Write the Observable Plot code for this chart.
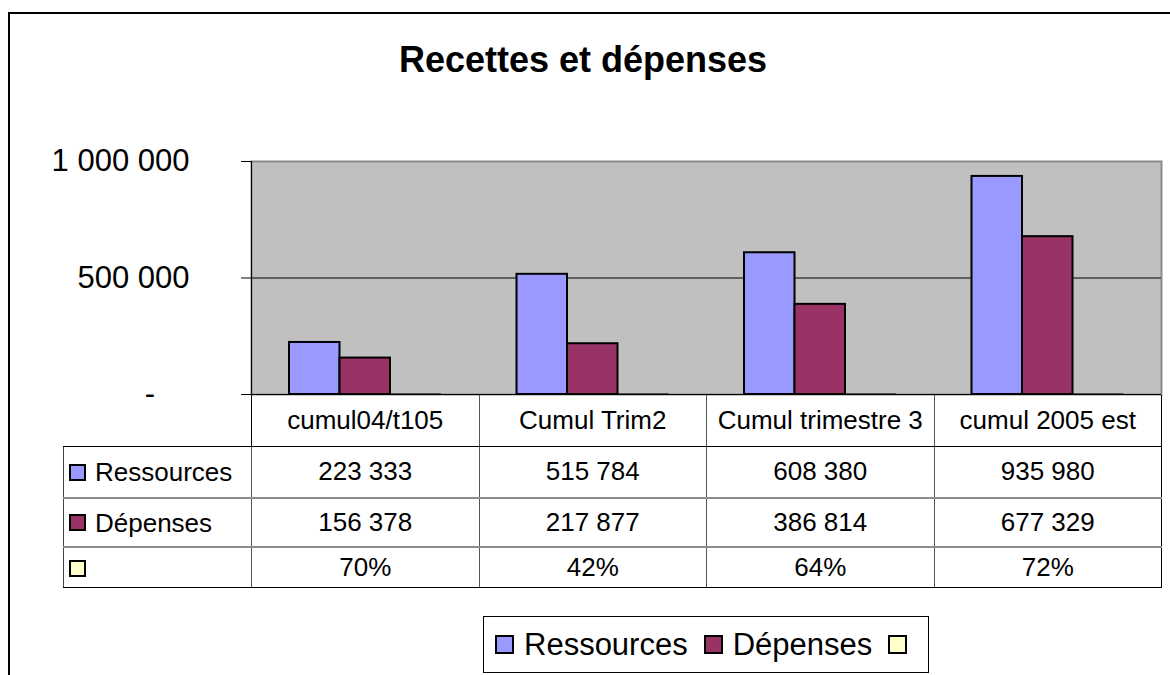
<!DOCTYPE html>
<html>
<head>
<meta charset="utf-8">
<script src="https://cdn.jsdelivr.net/npm/d3@7"></script>
<script src="https://cdn.jsdelivr.net/npm/@observablehq/plot@0.6"></script>
<style>
  html, body { margin: 0; padding: 0; background: #fff; }
  #wrap { position: relative; width: 1170px; height: 675px; overflow: hidden; font-family: "Liberation Sans", Arial, sans-serif; color: #000; }
  #border { position: absolute; left: 8px; top: 12px; width: 1300px; height: 800px; border: 2px solid #000; }
  #title { position: absolute; left: 0; width: 1166px; top: 42px; text-align: center; font-weight: bold; font-size: 36px; line-height: 36px; white-space: nowrap; }
  #chart { position: absolute; left: 0; top: 130px; }
  #table { position: absolute; border-collapse: collapse; table-layout: fixed; font-size: 26px; }
  #table td { padding: 0; text-align: center; white-space: nowrap; border: 1px solid #555; }
  .sw { display: inline-block; box-sizing: border-box; border: 2px solid #000; vertical-align: middle; }
  #legend { position: absolute; box-sizing: border-box; border: 1px solid #000; display: flex; align-items: center; font-size: 31px; white-space: nowrap; }
</style>
</head>
<body>
<div id="wrap">
  <div id="border"></div>
  <div id="title">Recettes et dépenses</div>
  <div id="chart"></div>
</div>
<script>
// ---- data ----
const categories = ["cumul04/t105", "Cumul Trim2", "Cumul trimestre 3", "cumul 2005 est"];
const seriesNames = ["Ressources", "Dépenses", ""];
const ressources = [223333, 515784, 608380, 935980];
const depenses = [156378, 217877, 386814, 677329];
const ratio = [0.70, 0.42, 0.64, 0.72];
const yTicks = [0, 500000, 1000000];
const seriesColors = ["#9999FF", "#993366", "#FFFFCC"];

// ---- layout ----
const W = 1170, H = 280;
const mL = 251, mR = 9, mT = 31, mB = 16;
const svgTop = 130;
const bandW = (W - mL - mR) / categories.length;
const barW = 50.5;
const outer = (bandW - 3 * barW) / 2;

const seriesValues = [ressources, depenses, ratio];
const rows = [];
seriesNames.forEach((s, k) => categories.forEach((c, i) => rows.push({series: k, cat: c, value: seriesValues[k][i]})));

const numFmt = v => d3.format(",")(v).replace(/,/g, " ");
const pctFmt = d3.format(".0%");
const tickFmt = v => v === 0 ? "-\u00a0\u00a0\u00a0\u00a0" : numFmt(v);

const barMarks = seriesNames.map((s, k) =>
  Plot.barY(rows.filter(d => d.series === k), {
    x: "cat", y: "value",
    fill: seriesColors[k], stroke: "#000", strokeWidth: k === 2 ? 1 : 2,
    insetLeft: outer + k * barW,
    insetRight: bandW - outer - (k + 1) * barW
  })
);

const plot = Plot.plot({
  width: W, height: H,
  marginLeft: mL, marginRight: mR, marginTop: mT, marginBottom: mB,
  style: {fontFamily: "'Liberation Sans', Arial, sans-serif", fontSize: "31px", color: "#000", background: "transparent", overflow: "visible"},
  x: {type: "band", domain: categories, padding: 0, round: false, axis: null},
  y: {domain: [0, 1000000], label: null},
  marks: [
    Plot.frame({fill: "#C0C0C0", stroke: "#8c8c8c", strokeWidth: 2}),
    Plot.ruleY(yTicks.slice(0, 2), {stroke: "#000", strokeWidth: 1}),
    ...barMarks,
    Plot.frame({anchor: "left", stroke: "#000", strokeWidth: 1}),
    Plot.ruleY([0], {stroke: "#000", strokeWidth: 1}),
    Plot.axisY(yTicks, {tickSize: 10, tickPadding: 52, tickFormat: tickFmt, fontSize: 31, label: null})
  ]
});
document.getElementById("chart").appendChild(plot);

// ---- data table below the chart, aligned with the x scale ----
const xs = plot.scale("x");
const wrap = document.getElementById("wrap");
const tableLeft = 63;
const axisY0 = svgTop + plot.scale("y").apply(0);
const table = document.createElement("table");
table.id = "table";
table.style.left = tableLeft + "px";
table.style.top = (axisY0 + 0.5) + "px";
const colgroup = document.createElement("colgroup");
const firstColW = xs.apply(categories[0]) - tableLeft;
[firstColW, ...categories.map(() => xs.bandwidth)].forEach(w => {
  const col = document.createElement("col"); col.style.width = w + "px"; colgroup.appendChild(col);
});
table.appendChild(colgroup);
table.style.width = (firstColW + xs.bandwidth * categories.length) + "px";

// header row
let tr = document.createElement("tr");
tr.style.height = "52px";
let td = document.createElement("td");
td.style.border = "none"; td.style.borderBottom = "1px solid #000"; td.style.borderRight = "1px solid #000";
tr.appendChild(td);
categories.forEach((c, i) => {
  const t = document.createElement("td");
  t.textContent = c;
  t.style.borderTop = "none";
  t.style.borderBottom = "1px solid #000";
  if (i === categories.length - 1) t.style.borderRight = "1px solid #000";
  tr.appendChild(t);
});
table.appendChild(tr);
const rowHeights = ["51px", "49px", "41px"];
seriesNames.forEach((s, k) => {
  const r = document.createElement("tr");
  r.style.height = rowHeights[k];
  const l = document.createElement("td");
  l.style.textAlign = "left";
  l.style.paddingLeft = "5px";
  l.style.fontSize = "26px";
  l.style.borderLeft = "1px solid #444";
  l.innerHTML = `<span class="sw" style="width:17px;height:17px;background:${seriesColors[k]};margin-right:9px;"></span><span style="vertical-align:middle">${s}</span>`;
  l.style.borderBottom = k < 2 ? "2px solid #8c8c8c" : "1px solid #000";
  r.appendChild(l);
  categories.forEach((c, i) => {
    const t = document.createElement("td");
    const v = seriesValues[k][i];
    t.textContent = k === 2 ? pctFmt(v) : numFmt(v);
    t.style.borderBottom = k < 2 ? "2px solid #8c8c8c" : "1px solid #000";
    if (i === categories.length - 1) t.style.borderRight = "1px solid #000";
    r.appendChild(t);
  });
  table.appendChild(r);
});
wrap.appendChild(table);

// ---- legend ----
const legend = document.createElement("div");
legend.id = "legend";
const legW = 446, legH = 57;
const plotCenter = (xs.range[0] + xs.range[1]) / 2;
legend.style.left = (plotCenter - legW / 2) + "px";
legend.style.top = "616px";
legend.style.width = legW + "px";
legend.style.height = legH + "px";
legend.style.paddingLeft = "11px";
seriesNames.forEach((s, k) => {
  const sw = document.createElement("span");
  sw.className = "sw";
  sw.style.width = "19px"; sw.style.height = "19px";
  sw.style.background = seriesColors[k];
  sw.style.marginRight = "10px";
  legend.appendChild(sw);
  if (s) {
    const t = document.createElement("span");
    t.textContent = s;
    t.style.marginRight = "16px";
    legend.appendChild(t);
  }
});
wrap.appendChild(legend);
</script>
</body>
</html>
